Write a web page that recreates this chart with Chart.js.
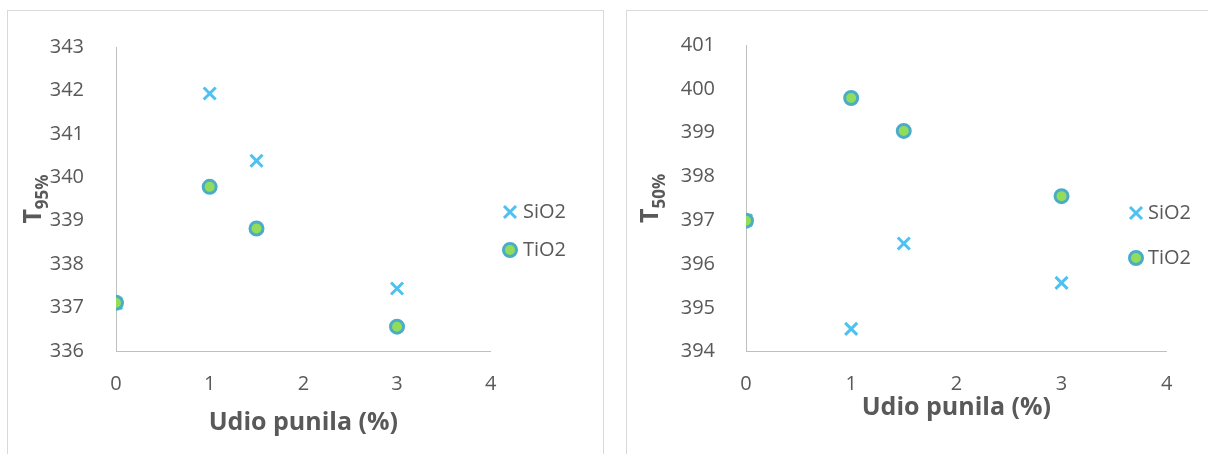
<!DOCTYPE html>
<html>
<head>
  <meta charset="UTF-8">
  <title>Udio punila - T95% / T50%</title>
  <script src="https://cdn.jsdelivr.net/npm/chart.js"></script>
  <style>
    body { margin: 0; width: 1208px; height: 454px; overflow: hidden; position: relative; background: #fff; }
    .panel { position: absolute; top: 10px; height: 470px; border: 1px solid #d9d9d9; box-sizing: border-box; }
    #panel1 { left: 7px; width: 597px; }
    #panel2 { left: 626px; width: 620px; }
    canvas { position: absolute; }
    #c1 { left: 7px; top: 10px; }
    #c2 { left: 626px; top: 10px; }
  </style>
</head>
<body>
  <div class="panel" id="panel1"></div>
  <div class="panel" id="panel2"></div>
  <canvas id="c1" width="596" height="444"></canvas>
  <canvas id="c2" width="582" height="444"></canvas>

  <script>
    // udio punila (%)
    const udio = [0, 1, 1.5, 3];
    const seriesNames = ['SiO2', 'TiO2'];
    // T95%
    const sio2T95 = [337.1, 341.93, 340.38, 337.44];
    const tio2T95 = [337.11, 339.78, 338.82, 336.56];
    // T50%
    const sio2T50 = [397.0, 394.52, 396.47, 395.57];
    const tio2T50 = [396.99, 399.79, 399.04, 397.55];
    const xRange = [0, 4];
    const yRangeT95 = [336, 343];
    const yRangeT50 = [394, 401];
    const xTitle = 'Udio punila (%)';

    const grey = '#595959';
    Chart.defaults.font.family = "'Open Sans', sans-serif";
    Chart.defaults.color = grey;

    function points(ys) {
      return udio.map((x, i) => ({ x: x, y: ys[i] }));
    }

    function drawMarker(ctx, ds, x, y) {
      ctx.save();
      ctx.fillStyle = ds.pointBackgroundColor;
      ctx.strokeStyle = ds.pointBorderColor;
      ctx.lineWidth = ds.pointBorderWidth;
      if (Chart.helpers && Chart.helpers.drawPoint) {
        Chart.helpers.drawPoint(ctx, {
          pointStyle: ds.pointStyle, radius: ds.pointRadius,
          borderWidth: ds.pointBorderWidth, rotation: 0
        }, x, y);
      } else if (ds.pointStyle === 'crossRot') {
        const d = ds.pointRadius * Math.SQRT1_2;
        ctx.beginPath();
        ctx.moveTo(x - d, y - d); ctx.lineTo(x + d, y + d);
        ctx.moveTo(x - d, y + d); ctx.lineTo(x + d, y - d);
        ctx.stroke();
      } else {
        ctx.beginPath();
        ctx.arc(x, y, ds.pointRadius, 0, Math.PI * 2);
        ctx.fill();
        ctx.stroke();
      }
      ctx.restore();
    }

    // legend placed like the Excel one (overlapping the plot on the right chart)
    const sideLegend = {
      id: 'sideLegend',
      afterDraw(chart, args, opts) {
        const ctx = chart.ctx;
        chart.data.datasets.forEach((ds, i) => {
          const y = opts.y + i * opts.gap;
          drawMarker(ctx, ds, opts.x, y);
          ctx.save();
          ctx.font = '20px "Open Sans"';
          ctx.fillStyle = grey;
          ctx.textBaseline = 'middle';
          ctx.fillText(ds.label, opts.textX, y);
          ctx.restore();
        });
      }
    };

    // y axis title with subscript (T95%, T50%)
    const yTitle = {
      id: 'yTitle',
      afterDraw(chart, args, opts) {
        const { ctx, chartArea } = chart;
        const cy = (chartArea.top + chartArea.bottom) / 2;
        const big = 'bold 25px "Open Sans"';
        const small = 'bold 17px "Open Sans"';
        ctx.save();
        ctx.fillStyle = grey;
        ctx.textBaseline = 'alphabetic';
        ctx.font = big;
        const wMain = ctx.measureText(opts.main).width;
        ctx.font = small;
        const wSub = ctx.measureText(opts.sub).width;
        ctx.translate(opts.x, cy);
        ctx.rotate(-Math.PI / 2);
        const start = -(wMain + wSub) / 2;
        ctx.font = big;
        ctx.fillText(opts.main, start, 0);
        ctx.font = small;
        ctx.fillText(opts.sub, start + wMain, 7);
        ctx.restore();
      }
    };

    function makeChart(id, sio2, tio2, yRange, lay) {
      return new Chart(document.getElementById(id), {
        type: 'scatter',
        data: {
          datasets: [
            {
              label: seriesNames[0], data: points(sio2), order: 1,
              pointStyle: 'crossRot', pointRadius: 8.5, pointHoverRadius: 8.5,
              pointBorderWidth: 3, borderWidth: 3,
              pointBorderColor: '#4dc2f2', borderColor: '#4dc2f2',
              pointBackgroundColor: '#4dc2f2', backgroundColor: '#4dc2f2'
            },
            {
              label: seriesNames[1], data: points(tio2), order: 0,
              pointStyle: 'circle', pointRadius: 6.5, pointHoverRadius: 6.5,
              pointBorderWidth: 3, borderWidth: 3,
              pointBorderColor: '#4bacc6', borderColor: '#4bacc6',
              pointBackgroundColor: '#92dc5c', backgroundColor: '#92dc5c'
            }
          ]
        },
        options: {
          responsive: false,
          animation: false,
          events: [],
          layout: { padding: lay.padding },
          scales: {
            x: {
              type: 'linear', min: xRange[0], max: xRange[1],
              grid: { display: false },
              border: { color: '#bfbfbf', width: 1 },
              ticks: { stepSize: 1, padding: lay.xTickPad, font: { size: 20 }, color: grey },
              title: {
                display: true, text: xTitle, color: grey,
                font: { size: 25, weight: 'bold' },
                padding: { top: 0, bottom: lay.xTitlePad }
              },
              afterFit: s => { s.height = lay.xHeight; }
            },
            y: {
              min: yRange[0], max: yRange[1],
              grid: { display: false },
              border: { color: '#bfbfbf', width: 1 },
              ticks: { stepSize: 1, padding: lay.yTickPad, font: { size: 20 }, color: grey },
              afterFit: s => { s.width = lay.yWidth; }
            }
          },
          plugins: {
            legend: { display: false },
            tooltip: { enabled: false },
            sideLegend: lay.legend,
            yTitle: lay.yTitle
          }
        },
        plugins: [sideLegend, yTitle]
      });
    }

    makeChart('c1', sio2T95, tio2T95, yRangeT95, {
      padding: { left: 20, top: 37, right: 112.3, bottom: 0 },
      yWidth: 89, xHeight: 103, xTickPad: 13, xTitlePad: 16, yTickPad: 24,
      legend: { x: 503, y: 202, gap: 38, textX: 516 },
      yTitle: { x: 34, main: 'T', sub: '95%' }
    });

    makeChart('c2', sio2T50, tio2T50, yRangeT50, {
      padding: { left: 20, top: 34, right: 41.3, bottom: 0 },
      yWidth: 100, xHeight: 102.3, xTickPad: 13, xTitlePad: 31, yTickPad: 23,
      legend: { x: 510, y: 203, gap: 45, textX: 522 },
      yTitle: { x: 32, main: 'T', sub: '50%' }
    });
  </script>
</body>
</html>
